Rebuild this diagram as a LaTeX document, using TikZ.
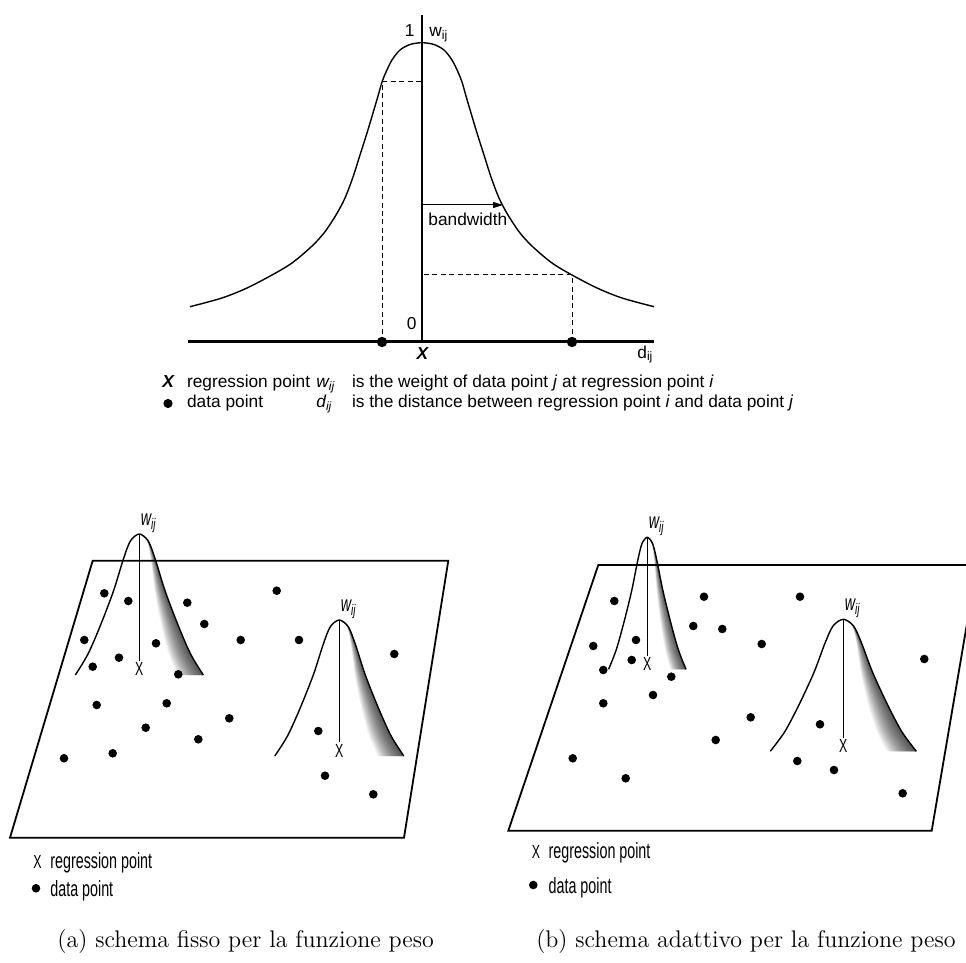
\documentclass[tikz,border=0pt]{standalone}
\usepackage{fontspec}
\newfontfamily\hv{Liberation Sans}
\newfontfamily\hvn{Liberation Sans}[FakeStretch=0.65]
\usetikzlibrary{arrows.meta}

% one 3D kernel: name, peak x, peak y, half width, height
\newcommand{\bellcurve}[5]{%
  \begin{scope}[shift={(#2,#3)}, xscale=#4, yscale=#5]
    \foreach \t in {1,0.95,...,0.05}
      \fill[black, fill opacity=0.05]
        plot[smooth] coordinates {(0,0) (0.14,0.05) (0.25,0.18) (0.4,0.4) (0.6,0.64) (0.8,0.85) (1,1)}
        -- plot[smooth] coordinates {({1-0.4*\t},1) ({0.8-0.34*\t},0.85) ({0.6-0.26*\t},0.64)
                                     ({0.4-0.16*\t},0.4) ({0.25-0.07*\t},0.18) ({0.14-0.02*\t},0.05) (0,0)}
        -- cycle;
    \draw[bellline] plot[smooth] coordinates {(-1,1) (-0.8,0.85) (-0.6,0.64) (-0.4,0.4) (-0.25,0.18)
        (-0.14,0.05) (0,0) (0.14,0.05) (0.25,0.18) (0.4,0.4) (0.6,0.64) (0.8,0.85) (1,1)};
    \coordinate (#1p) at (0,0);
    \coordinate (#1b) at (0,0.9);
    \draw[stem] (#1p) -- (#1b);
  \end{scope}
  \node[xlab, anchor=north] (#1x) at (#1b) {X};
  \node[nlab, inner sep=0.6pt, anchor=south west] (#1w) at (#1p) {\itshape w\textsubscript{ij}};}

\begin{document}
\begin{tikzpicture}[x=0.5pt, y=-0.5pt,
    lab/.style={font=\hv\fontsize{8.65}{10}\selectfont, inner sep=0pt},
    nlab/.style={font=\hvn\fontsize{11}{12}\selectfont, inner sep=0pt},
    xlab/.style={font=\hvn\fontsize{9.5}{10}\selectfont, inner sep=0.6pt},
    captxt/.style={font=\fontsize{12}{14}\selectfont, inner sep=0pt},
    bellline/.style={line width=0.7pt},
    daxis/.style={line width=1.5pt},
    vaxis/.style={line width=0.7pt},
    dguide/.style={dash pattern=on 2.5pt off 1.7pt, line width=0.5pt},
    plane/.style={line width=0.9pt},
    stem/.style={line width=0.5pt},
    datadot/.style={circle, fill=black, inner sep=0pt, minimum size=4.3pt},
    bigdot/.style={circle, fill=black, inner sep=0pt, minimum size=5.2pt},
]
    \useasboundingbox (0,0) rectangle (966,963);
    \clip (0,0) rectangle (966,963);

    %==================== KERNEL ====================
    \coordinate (o) at (422,342);
    \coordinate (ytop) at (422,15);
    \coordinate (xl) at (188,342);
    \coordinate (xr) at (654,342);
    \coordinate (al) at (382,342);
    \coordinate (ar) at (572,342);
    \coordinate (cl) at (382,82);
    \coordinate (wl) at (422,82);
    \coordinate (cr) at (572,275);
    \coordinate (wr) at (422,275);
    \coordinate (bw0) at (422,205);
    \coordinate (bw1) at (503,205);

    \draw[bellline] plot[smooth] coordinates {(190,306.7) (222,298) (247,288) (272,275) (292,263)
        (311,247) (324,233) (336,215) (345,198) (353,177) (360,155) (367,133) (373,113) (378,96)
        (382,82) (386,72) (392,60) (400,50) (410,44.5) (422,42.7) (434,44.5) (444,50) (452,60)
        (458,72) (462,82) (466,96) (471,113) (477,133) (484,155) (491,177) (499,198) (508,215)
        (520,233) (533,247) (552,263) (572,275) (597,288) (622,298) (654,306.7)};

    \draw[dguide] (al) -- (cl) -- (wl);
    \draw[dguide] (ar) -- (cr) -- (wr);
    \draw[vaxis] (o) -- (ytop);
    \draw[daxis] (xl) -- (xr);
    \node[bigdot] (dotl) at (al) {};
    \node[bigdot] (dotr) at (ar) {};

    \draw[-{Triangle[length=5pt,width=3pt]}, line width=0.5pt] (bw0) -- (bw1);
    \node[lab, anchor=base west] (bw) at (428,226) {bandwidth};

    \node[lab, anchor=base east] (one) at (415,36.7) {1};
    \node[lab, anchor=base west] (wax) at (429,36.7) {w\textsubscript{ij}};
    \node[lab, anchor=base east] (zero) at (417,330) {0};
    \node[lab, anchor=base] (xax) at (422.5,360) {\bfseries\itshape X};
    \node[lab, anchor=base west] (dax) at (637,358) {d\textsubscript{ij}};

    %==================== legend ====================
    \node[lab, anchor=base west] (lx) at (162,388) {\bfseries\itshape X};
    \node[lab, anchor=base west] (lreg) at (186.7,388) {regression point};
    \node[lab, anchor=base west] (lw) at (316,388) {\itshape w\textsubscript{ij}};
    \node[lab, anchor=base west] (lwt) at (351.7,388)
        {is the weight of data point \textit{j} at regression point \textit{i}};
    \node[bigdot, minimum size=4.6pt] (ldot) at (168,403.5) {};
    \node[lab, anchor=base west] (ldat) at (186.7,408) {data point};
    \node[lab, anchor=base west] (ld) at (316,408) {\itshape d\textsubscript{ij}};
    \node[lab, anchor=base west] (ldt) at (351.7,408)
        {is the distance between regression point \textit{i} and data point \textit{j}};

    %==================== (a) fixed ====================
    \draw[plane] (92.7,560.7) -- (448.3,560.7) -- (404,837.7) -- (10,837.7) -- cycle;
    \bellcurve{fa}{139.3}{534}{64}{141}
    \bellcurve{fb}{339.3}{620}{64.5}{136}
    \foreach \p [count=\i] in {(104.3,593.3),(128.3,601),(187.3,602.7),(204.3,624),(276.7,590.7),
        (84.3,640),(156,643.3),(240.7,640),(299,640),(394.3,654),(119,657.7),(92.7,666.7),
        (178.3,674.3),(96.7,705),(166.7,703.3),(229.3,718.3),(145.7,727.7),(198.3,739.3),
        (64,758.3),(112.7,753.3),(318.3,731),(325,775.7),(373.3,794.3)}
        \node[datadot] (a\i) at \p {};

    \node[xlab, inner sep=0pt, anchor=base west] (ax) at (33,868.3) {X};
    \node[nlab, anchor=base west] (areg) at (50,868.3) {regression point};
    \node[datadot] (adot) at (36,888.3) {};
    \node[nlab, anchor=base west] (adat) at (50,896.7) {data point};

    %==================== (b) adaptive ====================
    \draw[plane] (598.3,565) -- (977,565) -- (931.7,830.7) -- (508.3,830.7) -- cycle;
    \bellcurve{ba}{647.3}{537.3}{38.7}{132}
    \bellcurve{bb}{843.3}{619.3}{73}{132}
    \foreach \p [count=\i] in {(614.3,601),(704,596.7),(800,596.7),(693.3,626),(722.3,629),
        (593.3,646),(636,640),(761.7,644),(924.3,659),(631.7,660),(603.3,670),(671.3,676.7),
        (603.3,703.3),(653,695),(750.7,717.3),(820,724.3),(715.7,740),(572.7,758.3),
        (797.3,761),(834,770),(625.7,778.3),(902.7,793.3)}
        \node[datadot] (b\i) at \p {};

    \node[xlab, inner sep=0pt, anchor=base west] (bx) at (531.5,858.3) {X};
    \node[nlab, anchor=base west] (breg) at (548.3,858.3) {regression point};
    \node[datadot] (bdot) at (533.3,885) {};
    \node[nlab, anchor=base west] (bdat) at (548.3,893.3) {data point};

    %==================== captions ====================
    \node[captxt, anchor=base west] (capa) at (57,947) {(a) schema fisso per la funzione peso};
    \node[captxt, anchor=base east] (capb) at (956,947) {(b) schema adattivo per la funzione peso};

\end{tikzpicture}
\end{document}
